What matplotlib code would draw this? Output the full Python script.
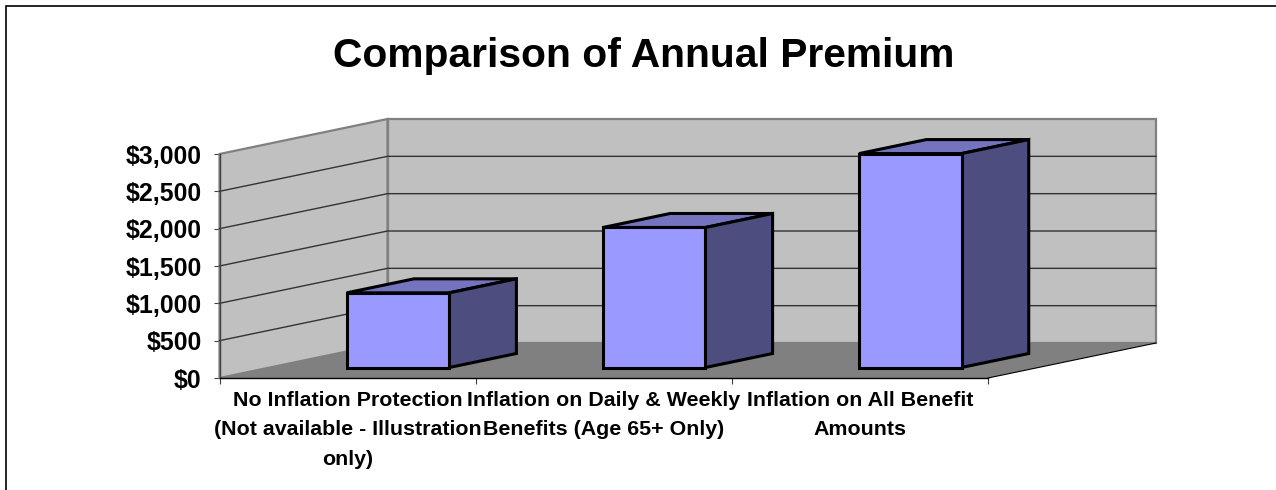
#!/usr/bin/python
# Comparison of annual premium, fake-3D column chart
import matplotlib as mpl
mpl.use('Agg')
from matplotlib import pyplot as plt
from matplotlib.lines import Line2D
from matplotlib.patches import Polygon
import numpy as np

categories = ["No Inflation Protection\n(Not available - Illustration\nonly)",
              "Inflation on Daily & Weekly\nBenefits (Age 65+ Only)",
              "Inflation on All Benefit\nAmounts"]
premiums = [1000, 1875, 2865]
yTicks = [0, 500, 1000, 1500, 2000, 2500, 3000]
yTickLabels = ["$0", "$500", "$1,000", "$1,500", "$2,000", "$2,500", "$3,000"]
chartTitle = "Comparison of Annual Premium"

W, H = 1276.0, 490.0
plt.rcParams['font.family'] = ['Liberation Sans', 'DejaVu Sans']

# front plane of the box, in pixels
left, right, top, bottom = 219.5, 988.0, 154.0, 378.0
yMax = 3000.0
catPx = (right - left) / len(categories)
# how far the back wall sits from the front plane, in data units
depthX = 168.0 / catPx
depthY = 35.0 / (bottom - top) * yMax


def proj(x, v, d):
    """category x, value v, depth d (0 front, 1 back) -> axes data coords"""
    return (x + d * depthX, v + d * depthY)


def face(ax, pts, fc, ec, lw, z):
    ax.add_patch(Polygon([proj(*p) for p in pts], closed=True, facecolor=fc,
                         edgecolor=ec, linewidth=lw, zorder=z, clip_on=False,
                         joinstyle='miter'))


fig = plt.figure(figsize=(W / 100, H / 100), dpi=100, facecolor='w')
ax = fig.add_axes([left / W, 1 - bottom / H, (right - left) / W, (bottom - top) / H])
ax.set_xlim(0, len(categories))
ax.set_ylim(0, yMax)
ax.patch.set_visible(False)

nCat = len(categories)
face(ax, [(0, 0, 0), (nCat, 0, 0), (nCat, 0, 1), (0, 0, 1)], '#808080', 'none', 0, 1)
face(ax, [(0, 0, 1), (nCat, 0, 1), (nCat, yMax, 1), (0, yMax, 1)], '#C0C0C0', '#808080', 1.6, 2)
face(ax, [(0, 0, 0), (0, 0, 1), (0, yMax, 1), (0, yMax, 0)], '#C0C0C0', '#808080', 1.6, 2)

# gridlines along left wall and back wall
for val in yTicks[1:-1]:
    gx, gy = zip(proj(0, val, 0), proj(0, val, 1), proj(nCat, val, 1))
    ax.plot(gx, gy, color='#333333', lw=1.0, zorder=3, clip_on=False)

# line from front right corner to the back wall
gx, gy = zip(proj(nCat, 0, 0), proj(nCat, 0, 1))
ax.plot(gx, gy, color='k', lw=0.8, zorder=3, clip_on=False)

# columns
for i, val in enumerate(premiums):
    x0, x1 = i + 0.3, i + 0.7
    d0, d1 = 0.3, 0.7
    face(ax, [(x0, val, d0), (x1, val, d0), (x1, val, d1), (x0, val, d1)], '#7373BF', 'k', 2.2, 4)
    face(ax, [(x1, 0, d0), (x1, 0, d1), (x1, val, d1), (x1, val, d0)], '#4D4D80', 'k', 2.2, 4)
    face(ax, [(x0, 0, d0), (x1, 0, d0), (x1, val, d0), (x0, val, d0)], '#9999FF', 'k', 2.2, 5)

for side in ['top', 'right']:
    ax.spines[side].set_visible(False)
ax.spines['left'].set_color('#404040')
ax.spines['left'].set_linewidth(1.0)
ax.spines['bottom'].set_color('k')
ax.spines['bottom'].set_linewidth(1.0)
ax.spines['left'].set_zorder(6)
ax.spines['bottom'].set_zorder(6)

ax.set_yticks(yTicks)
ax.set_yticklabels(yTickLabels, fontsize=17.9, fontweight='bold')
ax.tick_params(axis='y', length=4, width=0.8, color='#404040', pad=9)
ax.set_xticks(np.arange(nCat + 1))
ax.set_xticklabels([])
ax.tick_params(axis='x', which='major', length=4, width=0.8, color='#404040')
ax.set_xticks(np.arange(nCat) + 0.5, minor=True)
ax.set_xticklabels(categories, minor=True, fontsize=15.4, fontweight='bold', linespacing=1.68, va='top')
ax.tick_params(axis='x', which='minor', length=0, pad=9.5)

fig.text(643.5 / W, 1 - 56 / H, chartTitle, fontsize=29.3, fontweight='bold', ha='center', va='center')

# chart area border: only the top and left edges show in the image
fig.add_artist(Line2D([6 / W, 6 / W, 1.0], [0, 1 - 6.5 / H, 1 - 6.5 / H], transform=fig.transFigure,
                      color='k', linewidth=1.2, solid_joinstyle='miter'))

fig.savefig('out.png', dpi=100, facecolor='w')
